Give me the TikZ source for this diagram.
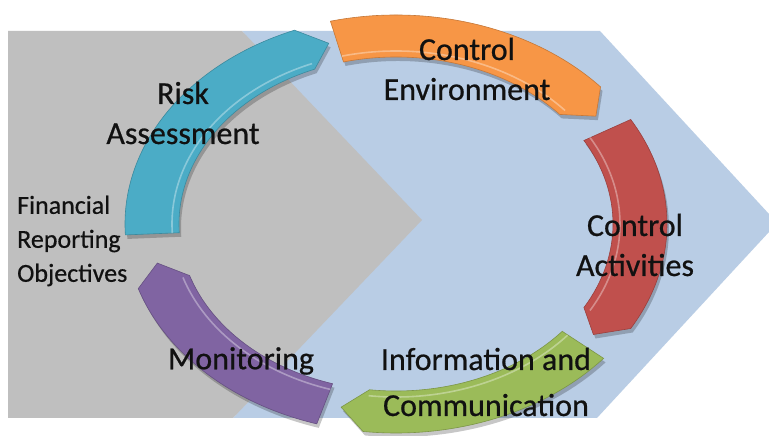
\documentclass[tikz,border=0pt]{standalone}
\usepackage{fontspec}
\setmainfont{Carlito}
\newfontfamily\lblfont{Carlito}[FakeBold=0.6]
\definecolor{bgblue}{HTML}{B9CDE5}
\definecolor{bggray}{HTML}{BFBFBF}
\definecolor{segteal}{HTML}{4BACC6}
\definecolor{segorange}{HTML}{F79646}
\definecolor{segred}{HTML}{C0504D}
\definecolor{seggreen}{HTML}{9BBB59}
\definecolor{segpurple}{HTML}{8064A2}
\definecolor{labeltext}{HTML}{111111}
% ring segment path: #1 start angle, #2 end angle, #3 tip angle
\newcommand\ringpath[3]{(#1:271pt and 209pt) arc[start angle=#1,end angle=#2,x radius=271pt,y radius=209pt] -- (#3:244pt and 188pt) -- (#2:217pt and 167pt) arc[start angle=#2,end angle=#1,x radius=217pt,y radius=167pt] -- cycle}
\newcommand\ringshadow[3]{\fill[black,opacity=.22,shift={(2pt,-4pt)}] \ringpath{#1}{#2}{#3};}
\newcommand\ringseg[4]{\fill[#1,draw=#1!80!black,line width=.6pt] \ringpath{#2}{#3}{#4};
  \draw[white,opacity=.35,line width=1.6pt] (#3:224pt and 173pt) arc[start angle=#3,end angle=#2,x radius=224pt,y radius=173pt];}
\tikzset{
  lbl/.style={text=labeltext,font=\lblfont\fontsize{32}{40}\selectfont,align=center,inner sep=0pt},
  smalllbl/.style={text=labeltext,font=\lblfont\fontsize{26}{34}\selectfont,align=left,inner sep=0pt},
}
\begin{document}
\begin{tikzpicture}[x=1pt,y=1pt]
\useasboundingbox (0,0) rectangle (769,436);
\fill[white] (0,0) rectangle (769,436);
% light blue chevron
\fill[bgblue] (242,405) -- (600,405) -- (769,222) -- (769,204) -- (597,18) -- (233,18) -- (410,212) -- cycle;
% gray pentagon
\fill[bggray] (8,405) -- (242,405) -- (422,216) -- (233,18) -- (8,18) -- cycle;
% ring
\begin{scope}[shift={(396pt,212pt)}]
  \ringshadow{183}{112}{106}
  \ringshadow{104}{41}{35}
  \ringshadow{30}{-30}{-36}
  \ringshadow{-40}{-97}{-103}
  \ringshadow{-107}{-162}{-168}
  \ringseg{segteal}{183}{112}{106}
  \ringseg{segorange}{104}{41}{35}
  \ringseg{segred}{30}{-30}{-36}
  \ringseg{seggreen}{-40}{-97}{-103}
  \ringseg{segpurple}{-107}{-162}{-168}
\end{scope}
% labels
\node[lbl] (risk) at (183,323) {Risk\\Assessment};
\node[lbl] (env) at (467,367) {Control\\Environment};
\node[lbl] (act) at (635,191) {Control\\Activities};
\node[lbl,font=\lblfont\fontsize{32}{46}\selectfont] (info) at (486,54) {Information and\\Communication};
\node[lbl] (mon) at (241,75) {Monitoring};
\node[smalllbl,anchor=west] (fro) at (17,195) {Financial\\Reporting\\Objectives};
\end{tikzpicture}
\end{document}
